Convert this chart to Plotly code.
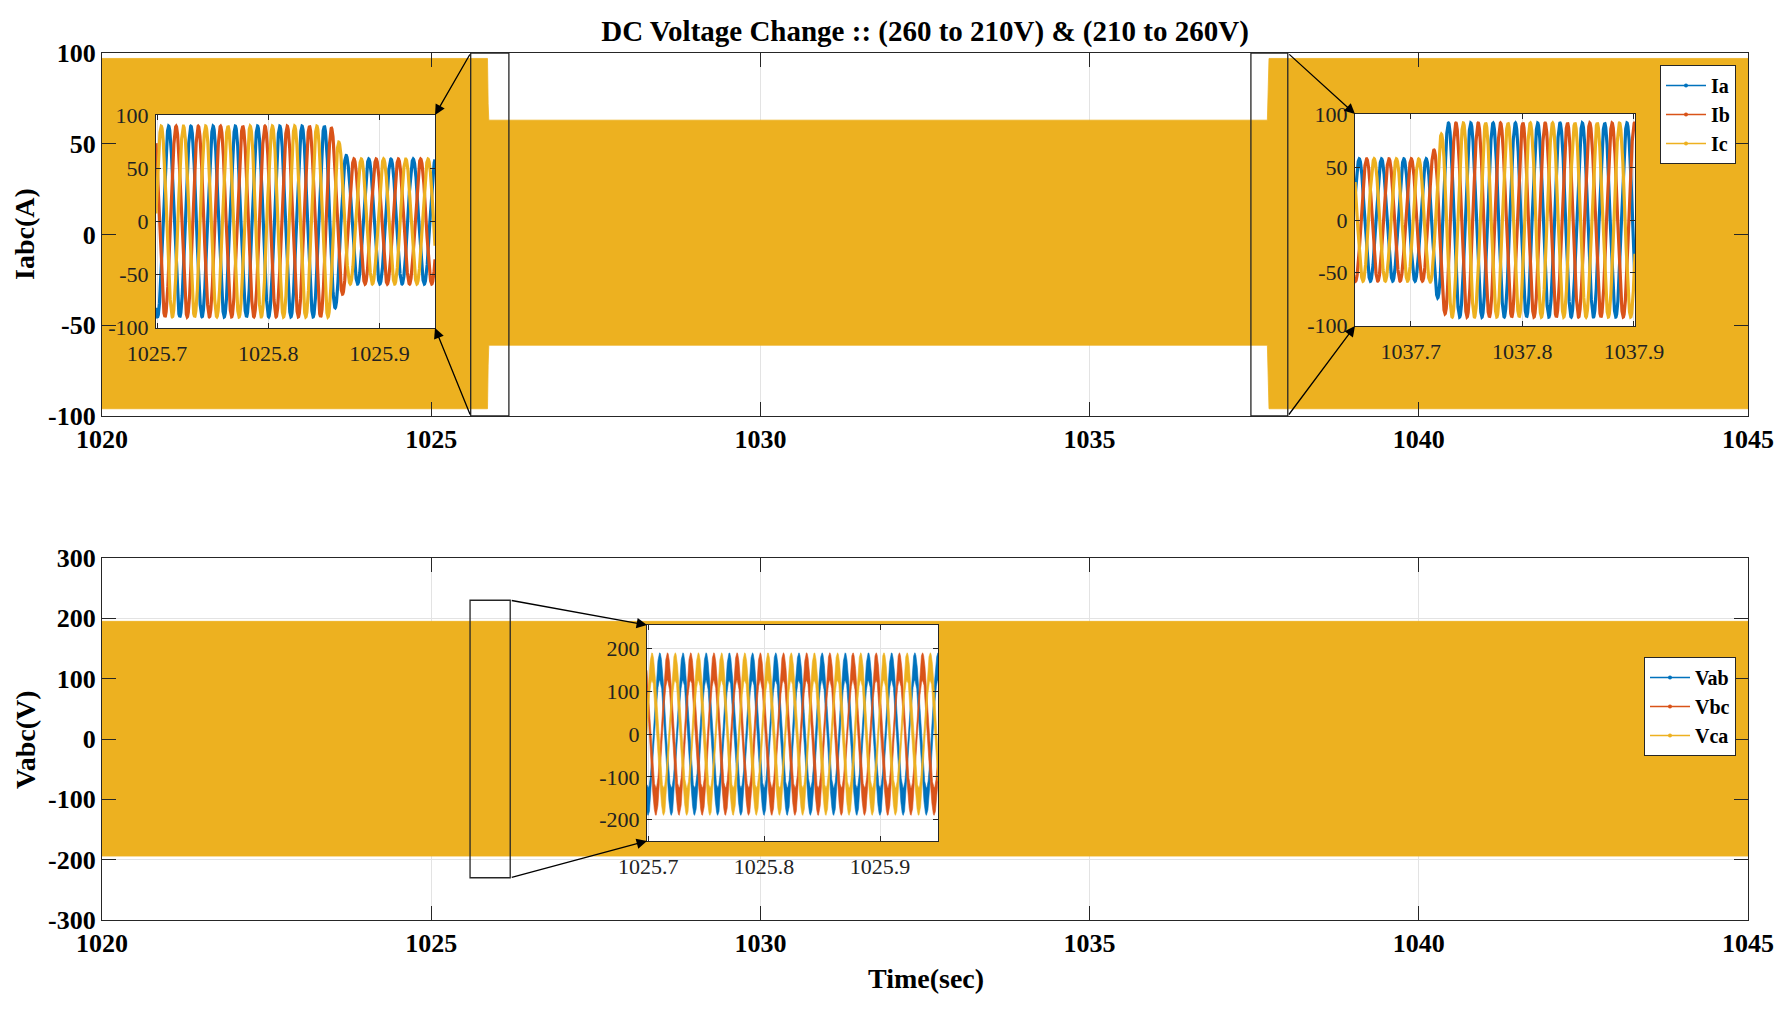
import numpy as np
import plotly.graph_objects as go

# ---------------- data ----------------
title_text = "DC Voltage Change :: (260 to 210V) & (210 to 260V)"

# main current panel: envelope of the dense 3-phase currents (A)
i_env_t = [1020.0, 1025.855, 1025.865, 1025.875, 1037.700, 1037.712, 1037.725, 1045.0]
i_env_hi = [97, 97, 72, 63, 63, 75, 97, 97]
i_env_lo = [-96, -96, -72, -61, -61, -75, -96, -96]

# main voltage panel: envelope of the dense line voltages (V)
v_env_t = [1020.0, 1045.0]
v_env_hi = [195, 195]
v_env_lo = [-194, -194]

# phase info
cur_names = ["Ia", "Ib", "Ic"]
volt_names = ["Vab", "Vbc", "Vca"]
phase_colors = ["#0072BD", "#D95319", "#EDB120"]
phase_shift_deg = [0, -120, 120]
grid_freq_hz = 50.0

# inset 1 (current, 260 -> 210 V)
ins1_peak_a = 1025.7104
ins1_env_t = [1025.69, 1025.856, 1025.864, 1025.872, 1025.96]
ins1_env_amp = [90, 90, 74, 59, 59]

# inset 2 (current, 210 -> 260 V)
ins2_peak_a = 1037.6538
ins2_env_t = [1037.64, 1037.717, 1037.724, 1037.732, 1037.91]
ins2_env_amp = [58, 58, 74, 92, 92]

# inset 3 (voltage)
ins3_peak_a = 1025.7100
ins3_env_t = [1025.69, 1025.96]
ins3_env_amp = [158, 158]
ins3_ripple = [32, 32]

# ticks
main_x_ticks = [1020, 1025, 1030, 1035, 1040, 1045]
main_x_text = ["1020", "1025", "1030", "1035", "1040", "1045"]
i_y_ticks = [-100, -50, 0, 50, 100]
i_y_text = ["-100", "-50", "0", "50", "100"]
v_y_ticks = [-300, -200, -100, 0, 100, 200, 300]
v_y_text = ["-300", "-200", "-100", "0", "100", "200", "300"]
ins1_x_ticks = [1025.7, 1025.8, 1025.9]
ins2_x_ticks = [1037.7, 1037.8, 1037.9]
ins_i_y_ticks = [-100, -50, 0, 50, 100]
ins_i_y_text = ["-100", "-50", "0", "50", "100"]
ins_v_y_ticks = [-200, -100, 0, 100, 200]
ins_v_y_text = ["-200", "-100", "0", "100", "200"]

# ---------------- layout geometry ----------------
PAGE_W, PAGE_H, BODY_M = 1790, 1013, 8
W, H = PAGE_W - 2 * BODY_M, PAGE_H - 2 * BODY_M
FONT = "Liberation Serif"
AX_COL = "#262626"
GRID_COL = "#e3e3e3"


def PX(p):  # page x pixel -> paper x
    return (p - BODY_M) / W


def PY(p):  # page y pixel -> paper y
    return 1 - (p - BODY_M) / H


main_xr = [1020, 1045]
top_yr = [-100, 100]
bot_yr = [-300, 300]
main_xdom = [PX(102), PX(1748)]
top_ydom = [PY(416), PY(53)]
bot_ydom = [PY(920), PY(558)]

ins1_xr = [1025.699, 1025.95]
ins2_xr = [1037.65, 1037.901]
ins3_xr = [1025.699, 1025.95]
ins_i_yr = [-100.5, 100.5]
ins_v_yr = [-250, 255]
ins1_xdom = [PX(156), PX(435)]
ins1_ydom = [PY(328), PY(115)]
ins2_xdom = [PX(1355), PX(1635)]
ins2_ydom = [PY(326), PY(114)]
ins3_xdom = [PX(647), PX(938)]
ins3_ydom = [PY(841), PY(625)]

box1_x = [1025.60, 1026.18]
box2_x = [1037.45, 1038.01]
box3_x = [1025.59, 1026.20]
box_i_y = [-100, 100]
box_v_y = [-230, 230]

fig = go.Figure()


def band(t, hi, lo):
    return list(t) + list(t)[::-1], list(hi) + list(lo)[::-1]


# main current band
bx, by = band(i_env_t, i_env_hi, i_env_lo)
fig.add_trace(go.Scatter(x=bx, y=by, fill="toself", fillcolor=phase_colors[2],
                         line=dict(width=0.8, color=phase_colors[2]), mode="lines",
                         showlegend=False, hoverinfo="skip", xaxis="x", yaxis="y"))
# main voltage band
bx, by = band(v_env_t, v_env_hi, v_env_lo)
fig.add_trace(go.Scatter(x=bx, y=by, fill="toself", fillcolor=phase_colors[2],
                         line=dict(width=0.8, color=phase_colors[2]), mode="lines",
                         showlegend=False, hoverinfo="skip", xaxis="x2", yaxis="y2"))

# legend entries
for i in range(3):
    fig.add_trace(go.Scatter(x=[None], y=[None], mode="lines+markers", name=cur_names[i],
                             line=dict(color=phase_colors[i], width=1.5),
                             marker=dict(size=4, color=phase_colors[i]),
                             xaxis="x", yaxis="y", legend="legend"))
for i in range(3):
    fig.add_trace(go.Scatter(x=[None], y=[None], mode="lines+markers", name=volt_names[i],
                             line=dict(color=phase_colors[i], width=1.5),
                             marker=dict(size=4, color=phase_colors[i]),
                             xaxis="x2", yaxis="y2", legend="legend2"))


def wave(t, peak_a, env_t, env_amp, shift_deg):
    amp = np.interp(t, env_t, env_amp)
    return amp * np.cos(2 * np.pi * grid_freq_hz * (t - peak_a) + np.deg2rad(shift_deg))


# current insets
for (xr, pk, et, ea, xa, ya) in [(ins1_xr, ins1_peak_a, ins1_env_t, ins1_env_amp, "x3", "y3"),
                                  (ins2_xr, ins2_peak_a, ins2_env_t, ins2_env_amp, "x4", "y4")]:
    t = np.linspace(xr[0], xr[1], 5000)
    for i in range(3):
        fig.add_trace(go.Scatter(x=t, y=wave(t, pk, et, ea, phase_shift_deg[i]), mode="lines",
                                 line=dict(color=phase_colors[i], width=3.2),
                                 showlegend=False, hoverinfo="skip", xaxis=xa, yaxis=ya))

# voltage inset (noisy band)
t = np.linspace(ins3_xr[0], ins3_xr[1], 4000)
rip = np.interp(t, ins3_env_t, ins3_ripple)
for i in range(3):
    w = wave(t, ins3_peak_a, ins3_env_t, ins3_env_amp, phase_shift_deg[i])
    bx, by = band(t, w + rip, w - rip)
    fig.add_trace(go.Scatter(x=bx, y=by, fill="toself", fillcolor=phase_colors[i],
                             line=dict(width=0.6, color=phase_colors[i]), mode="lines",
                             showlegend=False, hoverinfo="skip", xaxis="x5", yaxis="y5"))


def main_axis(rng, dom, tv, tt, anchor):
    return dict(range=rng, domain=dom, anchor=anchor, tickvals=tv, ticktext=tt,
                showline=True, linecolor=AX_COL, linewidth=1.2, mirror="ticks",
                ticks="inside", ticklen=14, tickcolor=AX_COL, tickwidth=1,
                showgrid=True, gridcolor=GRID_COL, gridwidth=1, zeroline=False,
                tickfont=dict(family=FONT, size=26, color="black", weight="bold"))


def inset_axis(rng, dom, tv, tt, anchor, standoff=0):
    return dict(range=rng, domain=dom, anchor=anchor, tickvals=tv, ticktext=tt,
                showline=True, linecolor=AX_COL, linewidth=1.2, mirror="ticks",
                ticks="inside", ticklen=5, tickcolor=AX_COL, tickwidth=1,
                showgrid=True, gridcolor=GRID_COL, gridwidth=1, zeroline=False,
                ticklabelstandoff=standoff,
                tickfont=dict(family=FONT, size=22, color="#222222"))


leg_font = dict(family=FONT, size=20, color="black", weight="bold")

fig.update_layout(
    width=W, height=H, autosize=False,
    margin=dict(l=0, r=0, t=0, b=0, pad=0, autoexpand=False),
    paper_bgcolor="white", plot_bgcolor="white",
    xaxis=main_axis(main_xr, main_xdom, main_x_ticks, main_x_text, "y"),
    yaxis=main_axis(top_yr, top_ydom, i_y_ticks, i_y_text, "x"),
    xaxis2=main_axis(main_xr, main_xdom, main_x_ticks, main_x_text, "y2"),
    yaxis2=main_axis(bot_yr, bot_ydom, v_y_ticks, v_y_text, "x2"),
    xaxis3=inset_axis(ins1_xr, ins1_xdom, ins1_x_ticks, [str(v) for v in ins1_x_ticks], "y3", 5),
    yaxis3=inset_axis(ins_i_yr, ins1_ydom, ins_i_y_ticks, ins_i_y_text, "x3", 2),
    xaxis4=inset_axis(ins2_xr, ins2_xdom, ins2_x_ticks, [str(v) for v in ins2_x_ticks], "y4", 5),
    yaxis4=inset_axis(ins_i_yr, ins2_ydom, ins_i_y_ticks, ins_i_y_text, "x4", 2),
    xaxis5=inset_axis(ins3_xr, ins3_xdom, ins1_x_ticks, [str(v) for v in ins1_x_ticks], "y5", 5),
    yaxis5=inset_axis(ins_v_yr, ins3_ydom, ins_v_y_ticks, ins_v_y_text, "x5", 2),
    title=dict(text="<b>" + title_text + "</b>", x=(main_xdom[0] + main_xdom[1]) / 2,
               xanchor="center", y=PY(31), yanchor="middle", yref="container",
               font=dict(family=FONT, size=29, color="black")),
    legend=dict(x=PX(1736), y=PY(65), xanchor="right", yanchor="top",
                bgcolor="white", bordercolor=AX_COL, borderwidth=1,
                font=leg_font, itemwidth=40, tracegroupgap=0),
    legend2=dict(x=PX(1736), y=PY(657), xanchor="right", yanchor="top",
                 bgcolor="white", bordercolor=AX_COL, borderwidth=1,
                 font=leg_font, itemwidth=40, tracegroupgap=0),
)

# zoom boxes
for bxr, byr, xr_, yr_ in [(box1_x, box_i_y, "x", "y"), (box2_x, box_i_y, "x", "y"),
                           (box3_x, box_v_y, "x2", "y2")]:
    fig.add_shape(type="rect", xref=xr_, yref=yr_, x0=bxr[0], x1=bxr[1], y0=byr[0], y1=byr[1],
                  line=dict(color=AX_COL, width=1.3), fillcolor="rgba(0,0,0,0)", layer="above")


def fx(v, dom, rng):  # data -> figure pixel x
    return (dom[0] + (v - rng[0]) / (rng[1] - rng[0]) * (dom[1] - dom[0])) * W


def fy(v, dom, rng):  # data -> figure pixel y
    return (1 - (dom[0] + (v - rng[0]) / (rng[1] - rng[0]) * (dom[1] - dom[0]))) * H


def arrow(tail, head):
    fig.add_annotation(x=head[0] / W, y=1 - head[1] / H, xref="paper", yref="paper",
                       ax=tail[0] - head[0], ay=tail[1] - head[1],
                       axref="pixel", ayref="pixel", text="", showarrow=True,
                       arrowhead=2, arrowsize=1.6, arrowwidth=1.3, arrowcolor="black")


# arrows from zoom boxes to insets
arrow((fx(box1_x[0], main_xdom, main_xr), fy(box_i_y[1], top_ydom, top_yr)),
      (ins1_xdom[1] * W, (1 - ins1_ydom[1]) * H))
arrow((fx(box1_x[0], main_xdom, main_xr), fy(box_i_y[0], top_ydom, top_yr)),
      (ins1_xdom[1] * W, (1 - ins1_ydom[0]) * H))
arrow((fx(box2_x[1], main_xdom, main_xr), fy(box_i_y[1], top_ydom, top_yr)),
      (ins2_xdom[0] * W, (1 - ins2_ydom[1]) * H))
arrow((fx(box2_x[1], main_xdom, main_xr), fy(box_i_y[0], top_ydom, top_yr)),
      (ins2_xdom[0] * W, (1 - ins2_ydom[0]) * H))
arrow((fx(box3_x[1], main_xdom, main_xr), fy(box_v_y[1], bot_ydom, bot_yr)),
      (ins3_xdom[0] * W, (1 - ins3_ydom[1]) * H))
arrow((fx(box3_x[1], main_xdom, main_xr), fy(box_v_y[0], bot_ydom, bot_yr)),
      (ins3_xdom[0] * W, (1 - ins3_ydom[0]) * H))

# axis titles
ttl_font = dict(family=FONT, size=28, color="black")
fig.add_annotation(text="<b>Iabc(A)</b>", x=PX(25), y=PY(234), xref="paper", yref="paper",
                   xanchor="center", yanchor="middle",
                   showarrow=False, textangle=-90, font=ttl_font)
fig.add_annotation(text="<b>Vabc(V)</b>", x=PX(25), y=PY(740), xref="paper", yref="paper",
                   xanchor="center", yanchor="middle",
                   showarrow=False, textangle=-90, font=ttl_font)
fig.add_annotation(text="<b>Time(sec)</b>", x=PX(926), y=PY(978), xref="paper", yref="paper",
                   xanchor="center", yanchor="middle", showarrow=False, font=ttl_font)

fig.write_html("out.html")
